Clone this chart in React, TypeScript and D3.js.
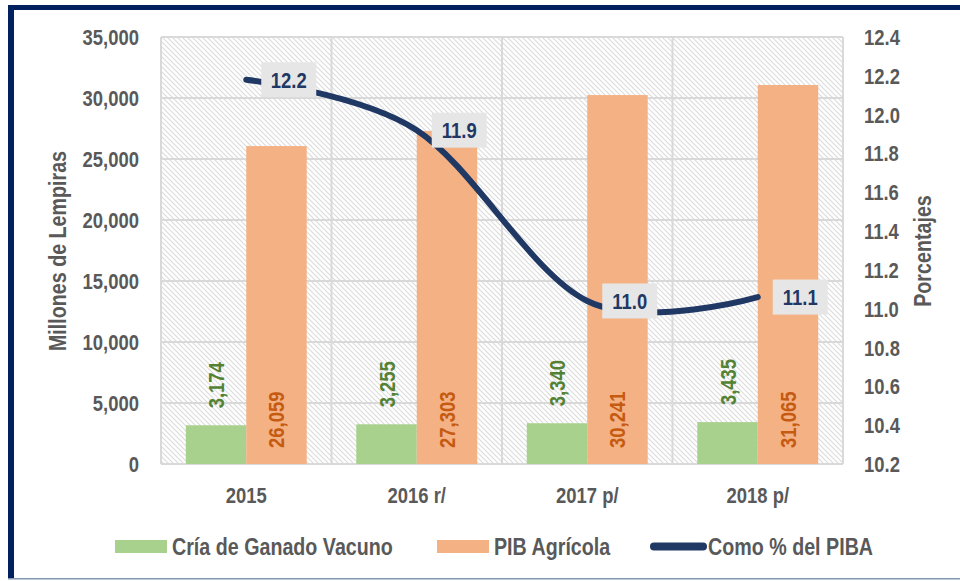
import React from 'react';
import * as d3 from 'd3';

const categories = ['2015', '2016 r/', '2017 p/', '2018 p/'];
const criaValues = [3174, 3255, 3340, 3435];
const pibValues = [26059, 27303, 30241, 31065];
const pctValues = [12.18, 11.92, 11.04, 11.06];
const leftTicks = [0, 5000, 10000, 15000, 20000, 25000, 30000, 35000];
const rightTicks = [10.2, 10.4, 10.6, 10.8, 11.0, 11.2, 11.4, 11.6, 11.8, 12.0, 12.2, 12.4];

const W = 960;
const H = 581;
const plot = { left: 161, right: 843, top: 37, bottom: 464 };

const FONT = '"Liberation Sans", Arial, sans-serif';
const NAVY = '#1f3864';
const GREEN = '#a9d18e';
const ORANGE = '#f4b183';
const GRID = '#d9d9d9';
const TEXT = '#595959';

// narrow bold text (Arial Narrow look) by squeezing Liberation Sans along its baseline
const T = ({ x, y, rot = 0, size = 22.5, anchor = 'start', fill = TEXT, children }: any) => (
  <text
    transform={`translate(${x},${y}) rotate(${rot}) scale(0.82,1)`}
    textAnchor={anchor}
    fontSize={size}
    fill={fill}
  >
    {children}
  </text>
);

const App = () => {
  const x = d3.scaleBand().domain(categories).range([plot.left, plot.right]).padding(0);
  const sub = d3
    .scaleBand()
    .domain(['cria', 'pib'])
    .range([0, x.bandwidth()])
    .paddingInner(0)
    .paddingOuter(0.41);
  const y = d3.scaleLinear().domain([0, 35000]).range([plot.bottom, plot.top]);
  const y2 = d3.scaleLinear().domain([10.2, 12.4]).range([plot.bottom, plot.top]);

  const fmt = d3.format(',');
  const pts: [number, number][] = pctValues.map((v, i) => [
    (x(categories[i]) as number) + x.bandwidth() / 2,
    y2(v),
  ]);
  const line = d3.line().curve(d3.curveCardinal.tension(0))(pts) as string;

  return (
    <div style={{ position: 'absolute', left: 0, top: 0 }}>
      <svg width={W} height={H} style={{ display: 'block', fontFamily: FONT, fontWeight: 'bold' }}>
        <defs>
          <pattern id="hatch" width="5" height="5" patternUnits="userSpaceOnUse">
            <path d="M-1,-1 L6,6 M-1,4 L1,6 M4,-1 L6,1" stroke="#dcdcdc" strokeWidth="1.2" />
          </pattern>
        </defs>
        <rect x={0} y={0} width={W} height={H} fill="#fff" />

        {/* frame */}
        <rect x={8} y={5} width={W - 8} height={5} fill="#002060" />
        <rect x={8} y={5} width={6} height={574} fill="#002060" />
        <rect x={8} y={578} width={W - 8} height={1.5} fill="#8497b0" />

        {/* plot area */}
        <rect
          x={plot.left}
          y={plot.top}
          width={plot.right - plot.left}
          height={plot.bottom - plot.top}
          fill="url(#hatch)"
        />
        {leftTicks.map((t) => (
          <line key={'h' + t} x1={plot.left} x2={plot.right} y1={y(t)} y2={y(t)} stroke={GRID} strokeWidth={2} />
        ))}
        {categories.map((c) => (
          <line key={'v' + c} x1={x(c)} x2={x(c)} y1={plot.top} y2={plot.bottom} stroke={GRID} strokeWidth={2} />
        ))}
        <line x1={plot.right} x2={plot.right} y1={plot.top} y2={plot.bottom} stroke={GRID} strokeWidth={2} />

        {/* bars */}
        {categories.map((c, i) => {
          const x0 = x(c) as number;
          return (
            <g key={'b' + c}>
              <rect
                x={x0 + (sub('cria') as number)}
                y={y(criaValues[i])}
                width={sub.bandwidth()}
                height={plot.bottom - y(criaValues[i])}
                fill={GREEN}
              />
              <rect
                x={x0 + (sub('pib') as number)}
                y={y(pibValues[i])}
                width={sub.bandwidth()}
                height={plot.bottom - y(pibValues[i])}
                fill={ORANGE}
              />
            </g>
          );
        })}

        {/* bar labels */}
        {categories.map((c, i) => {
          const x0 = x(c) as number;
          const gx = x0 + (sub('cria') as number) + sub.bandwidth() / 2;
          const ox = x0 + (sub('pib') as number) + sub.bandwidth() / 2;
          return (
            <g key={'l' + c}>
              <T x={gx + 8} y={y(criaValues[i]) - 17} rot={-90} fill="#548235">
                {fmt(criaValues[i])}
              </T>
              <T x={ox + 8} y={plot.bottom - 16} rot={-90} fill="#c55a11">
                {fmt(pibValues[i])}
              </T>
            </g>
          );
        })}

        {/* line */}
        <path d={line} fill="none" stroke={NAVY} strokeWidth={6} strokeLinecap="round" />
        {pts.map(([px, py], i) => (
          <g key={'p' + i}>
            <rect x={px + 15} y={py - 17.5} width={55} height={35} fill="#e7e6e6" />
            <T x={px + 42.5} y={py + 8} anchor="middle" fill={NAVY}>
              {pctValues[i].toFixed(1)}
            </T>
          </g>
        ))}

        {/* left axis */}
        {leftTicks.map((t) => (
          <T key={'lt' + t} x={139} y={y(t) + 8} anchor="end">
            {fmt(t)}
          </T>
        ))}
        {/* right axis */}
        {rightTicks.map((t) => (
          <T key={'rt' + t} x={864} y={y2(t) + 8}>
            {t.toFixed(1)}
          </T>
        ))}
        {/* x axis */}
        {categories.map((c) => (
          <T key={'xt' + c} x={(x(c) as number) + x.bandwidth() / 2} y={503} anchor="middle">
            {c}
          </T>
        ))}

        {/* axis titles */}
        <T x={66} y={251} rot={-90} size={24} anchor="middle">
          Millones de Lempiras
        </T>
        <T x={931} y={251} rot={-90} size={24} anchor="middle">
          Porcentajes
        </T>

        {/* legend */}
        <rect x={115} y={540} width={52} height={13} fill={GREEN} />
        <T x={172} y={555} size={24}>Cría de Ganado Vacuno</T>
        <rect x={437} y={540} width={52} height={13} fill={ORANGE} />
        <T x={494} y={555} size={24}>PIB Agrícola</T>
        <line x1={654} x2={703} y1={546.5} y2={546.5} stroke={NAVY} strokeWidth={8} strokeLinecap="round" />
        <T x={708} y={555} size={24}>Como % del PIBA</T>
      </svg>
    </div>
  );
};

export default App;
